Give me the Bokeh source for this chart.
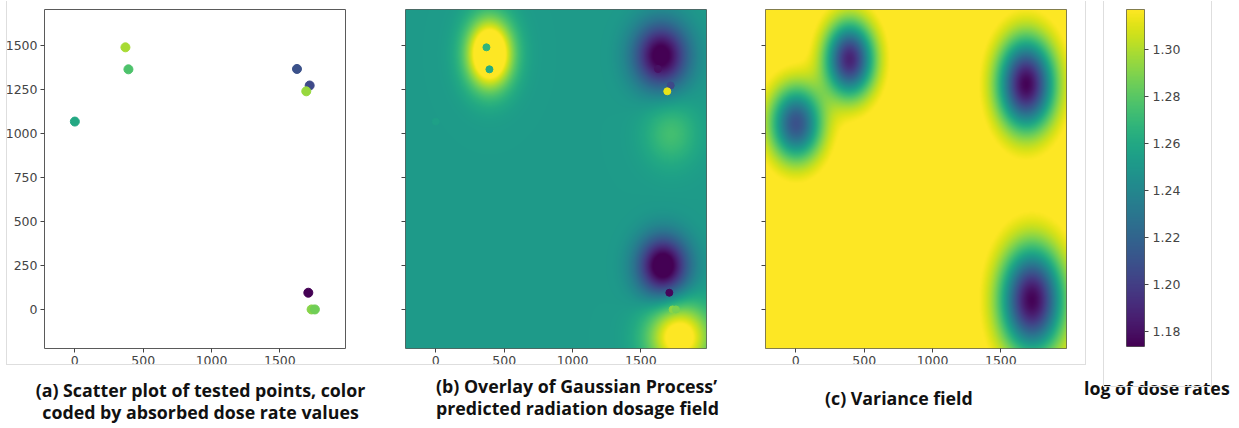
import numpy as np
from bokeh.plotting import figure
from bokeh.models import LinearColorMapper, FixedTicker, Div, Range1d, PrintfTickFormatter, ColumnDataSource
from bokeh.layouts import row, column
from bokeh.palettes import Viridis256
from bokeh.embed import file_html
from bokeh.resources import INLINE

# ---------------- data ----------------
# colour scale: log of dose rates
C_LOW, C_HIGH = 1.1736, 1.317
CBAR_TICKS = [1.18, 1.20, 1.22, 1.24, 1.26, 1.28, 1.30]

X_RANGE = (-222, 1980)
Y_RANGE = (-222, 1705)
X_TICKS = [0, 500, 1000, 1500]
Y_TICKS = [0, 250, 500, 750, 1000, 1250, 1500]

# tested points
pt_x = [370, 392, 0, 1625, 1718, 1693, 1708, 1732, 1756]
pt_y = [1490, 1365, 1068, 1367, 1273, 1240, 95, 0, 0]
pt_val_a = [1.298, 1.277, 1.260, 1.209, 1.205, 1.295, 1.174, 1.291, 1.286]
pt_val_b = [1.268, 1.262, 1.255, 1.180, 1.205, 1.312, 1.176, 1.292, 1.288]

# GP predicted mean field (b): background level and bumps
mean_base = 1.252
mean_cx = [392, 1650, 1665, 1785, 1724]
mean_cy = [1455, 1445, 245, -160, 1000]
mean_amp = [0.105, -0.085, -0.092, 0.078, 0.022]
mean_sx = [120, 140, 130, 165, 140]
mean_sy = [140, 130, 120, 135, 130]

# GP variance field (c): background level and dips
var_base = 1.325
var_cx = [0, 392, 1688, 1730]
var_cy = [1057, 1424, 1282, 51]
var_depth = [0.115, 0.137, 0.150, 0.150]
var_sx = [133, 125, 144, 161]
var_sy = [148, 148, 180, 210]

CAPTION_A = ["(a) Scatter plot of tested points, color", "coded by absorbed dose rate values"]
CAPTION_B = ["(b) Overlay of Gaussian Process\u2019", "predicted radiation dosage field"]
CAPTION_C = "(c) Variance field"
CAPTION_D = "log of dose rates"

# ---------------- build ----------------
mapper = LinearColorMapper(palette=Viridis256, low=C_LOW, high=C_HIGH)

NX, NY = 301, 339
gx = np.linspace(X_RANGE[0], X_RANGE[1], NX)
gy = np.linspace(Y_RANGE[0], Y_RANGE[1], NY)
GX, GY = np.meshgrid(gx, gy)


def field(base, cx, cy, amp, sx, sy):
    z = np.full(GX.shape, base, dtype=float)
    for a, b, c, d, e in zip(cx, cy, amp, sx, sy):
        z += c * np.exp(-0.5 * ((GX - a) / d) ** 2 - 0.5 * ((GY - b) / e) ** 2)
    return z


mean_field = field(mean_base, mean_cx, mean_cy, mean_amp, mean_sx, mean_sy)
var_field = field(var_base, var_cx, var_cy, [-v for v in var_depth], var_sx, var_sy)

TICK_FONT = "DejaVu Sans"
TICK_COLOR = "#444444"
OUTLINE = "#5a5a5a"
TOP = 5


def panel(left, right, labels):
    p = figure(frame_width=301, frame_height=339,
               x_range=Range1d(*X_RANGE), y_range=Range1d(*Y_RANGE),
               min_border_left=left, min_border_right=right,
               min_border_top=TOP, min_border_bottom=22,
               toolbar_location=None, output_backend="svg",
               background_fill_color="white", border_fill_color="white")
    p.grid.visible = False
    p.outline_line_color = OUTLINE
    p.outline_line_width = 1
    for ax in (p.xaxis[0], p.yaxis[0]):
        ax.axis_line_color = None
        ax.major_tick_line_color = TICK_COLOR
        ax.major_tick_out = 4
        ax.major_tick_in = 0
        ax.minor_tick_line_color = None
        ax.major_label_text_font = TICK_FONT
        ax.major_label_text_font_size = "12.5px"
        ax.major_label_text_color = TICK_COLOR
        ax.major_label_standoff = 3
    p.xaxis.ticker = FixedTicker(ticks=X_TICKS)
    p.yaxis.ticker = FixedTicker(ticks=Y_TICKS)
    if not labels:
        p.yaxis.major_label_text_color = None
        p.yaxis.major_label_text_font_size = "1px"
        p.yaxis.major_label_standoff = 0
    return p


# (a) scatter
pa = panel(44, 48, True)
src_a = ColumnDataSource(dict(x=pt_x, y=pt_y, v=pt_val_a))
pa.scatter("x", "y", source=src_a, size=9,
           fill_color={"field": "v", "transform": mapper},
           line_color={"field": "v", "transform": mapper})

# (b) mean field with points
pb = panel(12, 47, False)
pb.image(image=[mean_field], x=X_RANGE[0], y=Y_RANGE[0],
         dw=X_RANGE[1] - X_RANGE[0], dh=Y_RANGE[1] - Y_RANGE[0], color_mapper=mapper)
src_b = ColumnDataSource(dict(x=pt_x, y=pt_y, v=pt_val_b))
pb.scatter("x", "y", source=src_b, size=7,
           fill_color={"field": "v", "transform": mapper},
           line_color={"field": "v", "transform": mapper})

# (c) variance field
pc = panel(12, 17, False)
pc.image(image=[var_field], x=X_RANGE[0], y=Y_RANGE[0],
         dw=X_RANGE[1] - X_RANGE[0], dh=Y_RANGE[1] - Y_RANGE[0], color_mapper=mapper)

# colour bar
pd = figure(frame_width=18, frame_height=337, x_range=Range1d(0, 1),
            y_range=Range1d(C_LOW, C_HIGH), y_axis_location="right",
            min_border_left=43, min_border_right=76, min_border_top=TOP + 4, min_border_bottom=20,
            toolbar_location=None, output_backend="svg",
            background_fill_color="white", border_fill_color="white")
pd.grid.visible = False
pd.xaxis.visible = False
pd.outline_line_color = OUTLINE
grad = np.linspace(C_LOW, C_HIGH, 256)[:, None]
pd.image(image=[grad], x=0, y=C_LOW, dw=1, dh=C_HIGH - C_LOW, color_mapper=mapper)
ay = pd.yaxis[0]
ay.ticker = FixedTicker(ticks=CBAR_TICKS)
ay.formatter = PrintfTickFormatter(format="%.2f")
ay.axis_line_color = None
ay.major_tick_line_color = TICK_COLOR
ay.major_tick_out = 4
ay.major_tick_in = 0
ay.minor_tick_line_color = None
ay.major_label_text_font = TICK_FONT
ay.major_label_text_font_size = "12.5px"
ay.major_label_text_color = TICK_COLOR
ay.major_label_standoff = 4

CAP_STYLE = ("font-family:'Open Sans';font-weight:bold;font-size:17.8px;line-height:22px;"
             "color:#111;white-space:nowrap;margin:0;position:relative;box-sizing:border-box;")
FRAME = "1px solid #dedede"


def cap(html, width, pad_top, align, pad_left=0, box=""):
    return Div(text=f'<div style="{CAP_STYLE}text-align:{align};padding-top:{pad_top}px;'
                    f'padding-left:{pad_left}px;width:{width}px;">{box}{html}</div>',
               width=width, height=55, margin=0, styles={"overflow": "visible"})


box_a = (f'<div style="position:absolute;left:6px;top:-365px;width:1080px;height:364px;'
         f'border-left:{FRAME};border-right:{FRAME};border-bottom:{FRAME};'
         f'box-sizing:border-box;pointer-events:none;"></div>')
box_d = (f'<div style="position:absolute;left:20px;top:-365px;width:109px;height:386px;'
         f'border:{FRAME};border-top:none;box-sizing:border-box;pointer-events:none;"></div>')

ca = cap("<br>".join(CAPTION_A), 393, 13, "center", 8, box_a)
cb = cap("<br>".join(CAPTION_B), 360, 9, "left", 43)
cc = cap(CAPTION_C, 330, 21, "left", 72)
cd = cap(CAPTION_D, 137, 11, "left", 1, box_d)

layout = column(row(pa, pb, pc, pd), row(ca, cb, cc, cd))

open("out.html", "w").write(file_html(layout, INLINE))
